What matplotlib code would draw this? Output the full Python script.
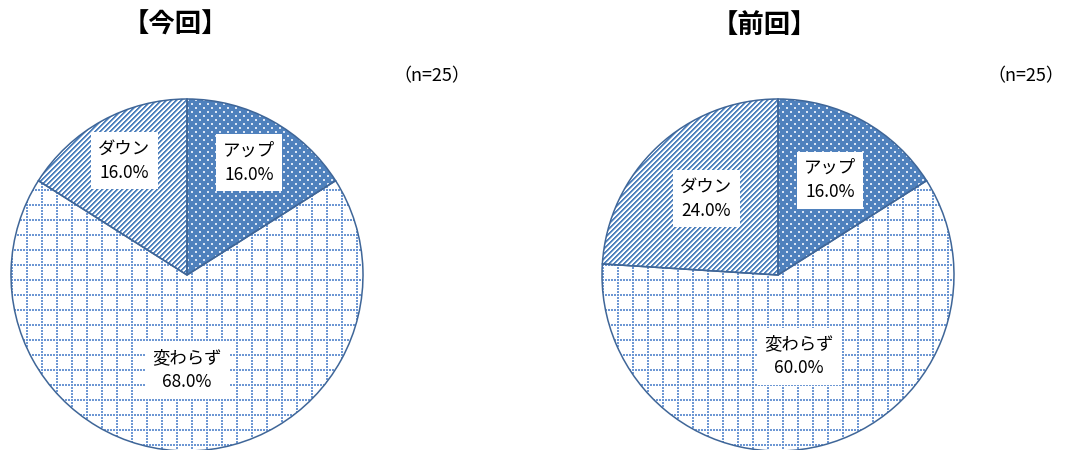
import numpy as np
import matplotlib
matplotlib.use('Agg')
import matplotlib.pyplot as plt

# ---- data ----
categories = ['アップ', '変わらず', 'ダウン']
current_values = [16.0, 68.0, 16.0]
previous_values = [16.0, 60.0, 24.0]
titles = ['【今回】', '【前回】']
n_labels = ['（n=25）', '（n=25）']

plt.rcParams['font.family'] = ['Noto Sans CJK JP', 'DejaVu Sans']

W, H = 1067, 450
R = 176
fig = plt.figure(figsize=(W / 100, H / 100), dpi=100)
fig.patch.set_facecolor('white')

BLUE = np.array([79, 129, 189]) / 255.0
EDGE = '#3f6698'


def grid(n):
    r = np.arange(n)[:, None]
    c = np.arange(n)[None, :]
    return r, c


def tex_up(n):
    img = np.ones((n, n, 3)) * BLUE
    r, c = grid(n)
    k = r // 4
    off = np.where(k % 2 == 0, 0, 4)
    mask = (r % 4 < 2) & ((c - off) % 8 < 2)
    img[mask] = [0.86, 0.90, 0.96]
    return img


def tex_same(n):
    img = np.ones((n, n, 3))
    r, c = grid(n)
    vert = (c % 15 < 2) & (r % 3 != 2)
    horiz = (r % 15 < 2) & (c % 3 != 2)
    img[vert | horiz] = np.array([110, 152, 212]) / 255.0
    return img


def tex_down(n):
    img = np.ones((n, n, 3))
    r, c = grid(n)
    s = (r + c) % 5
    img[s < 2] = BLUE
    img[s == 2] = (BLUE + 1) / 2
    return img


textures = [tex_up(2 * R), tex_same(2 * R), tex_down(2 * R)]


def draw(cx, cy, values, title, title_x, nlab, n_right, dists):
    ax = fig.add_axes([(cx - R) / W, (H - cy - R) / H, 2 * R / W, 2 * R / H])
    wedges, _ = ax.pie(values, startangle=90, counterclock=False, radius=1,
                       wedgeprops=dict(linewidth=1.1, edgecolor=EDGE))
    for w, tex in zip(wedges, textures):
        w.set_facecolor('none')
        w.set_zorder(3)
        im = ax.imshow(tex, extent=(-1, 1, -1, 1), origin='upper',
                       interpolation='nearest', zorder=1)
        im.set_clip_path(w)
    for w, cat, v, d in zip(wedges, categories, values, dists):
        ang = np.deg2rad((w.theta1 + w.theta2) / 2)
        ax.text(d * np.cos(ang), d * np.sin(ang), f'{cat}\n{v:.1f}%',
                ha='center', va='center', multialignment='center',
                fontsize=12.5, linespacing=1.45, zorder=5,
                bbox=dict(boxstyle='square,pad=0.42', fc='white', ec='none'))
    ax.set_xlim(-1, 1)
    ax.set_ylim(-1, 1)
    ax.set_aspect('equal')
    ax.axis('off')
    fig.text(title_x / W, 1 - 25 / H, title, ha='center', va='center',
             fontsize=19, fontweight='bold')
    fig.text(n_right / W, 1 - 76 / H, nlab, ha='right', va='center', fontsize=13)


draw(187, 275, current_values, titles[0], 175, n_labels[0], 470, [0.73, 0.54, 0.74])
draw(778, 275, previous_values, titles[1], 764, n_labels[1], 1064, [0.615, 0.477, 0.595])

fig.savefig('out.png', dpi=100, facecolor='white')
